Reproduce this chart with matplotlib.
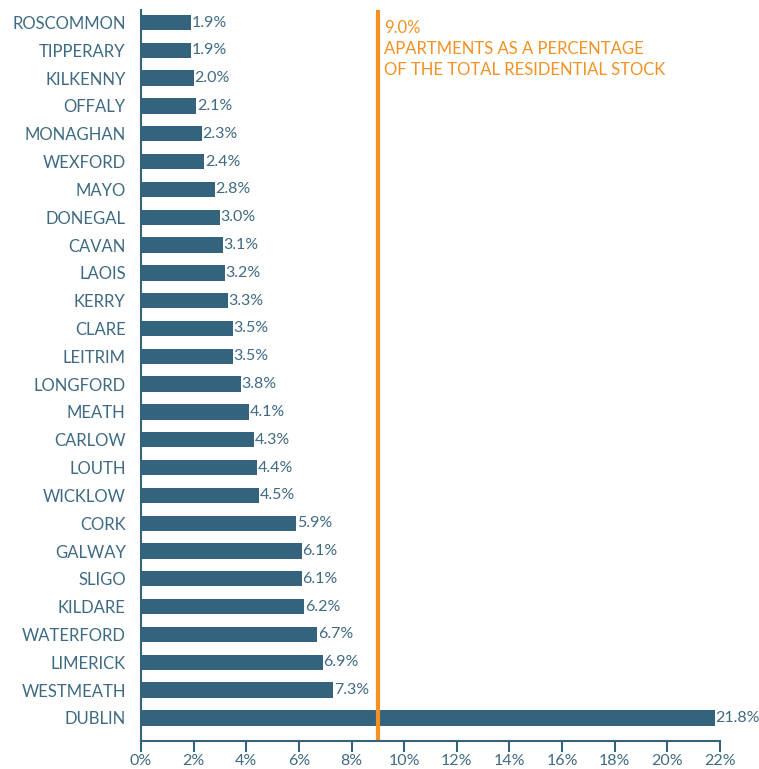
import matplotlib.pyplot as plt

counties = ["ROSCOMMON", "TIPPERARY", "KILKENNY", "OFFALY", "MONAGHAN", "WEXFORD",
            "MAYO", "DONEGAL", "CAVAN", "LAOIS", "KERRY", "CLARE", "LEITRIM",
            "LONGFORD", "MEATH", "CARLOW", "LOUTH", "WICKLOW", "CORK", "GALWAY",
            "SLIGO", "KILDARE", "WATERFORD", "LIMERICK", "WESTMEATH", "DUBLIN"]
share = [1.9, 1.9, 2.0, 2.1, 2.3, 2.4, 2.8, 3.0, 3.1, 3.2, 3.3, 3.5, 3.5,
         3.8, 4.1, 4.3, 4.4, 4.5, 5.9, 6.1, 6.1, 6.2, 6.7, 6.9, 7.3, 21.8]
national = 9.0
xticks = list(range(0, 23, 2))

teal = "#33637d"
text_col = "#3f6b82"
orange = "#f39222"

plt.rcParams["font.family"] = ["Lato", "DejaVu Sans"]

fig = plt.figure(figsize=(7.59, 7.69), dpi=100)
ax = fig.add_axes([0.1858, 0.0364, 0.9486 - 0.1858, 0.987 - 0.0364])

pos = list(range(len(counties) - 1, -1, -1))
ax.barh(pos, share, height=0.55, color=teal)
for p, v in zip(pos, share):
    ax.text(v + 0.02, p, f"{v:.1f}%", va="center", ha="left",
            fontsize=11.5, color=text_col)

ax.axvline(national, color=orange, linewidth=3)
ax.text(national + 0.25, 25.1, f"{national:.1f}%\nAPARTMENTS AS A PERCENTAGE\nOF THE TOTAL RESIDENTIAL STOCK",
        color=orange, fontsize=12, va="top", ha="left", linespacing=1.4)

ax.set_ylim(-0.83, 25.45)
ax.set_xlim(0, 22)
ax.set_yticks(pos)
ax.set_yticklabels(counties, fontsize=12, color=text_col)
ax.set_xticks(xticks)
ax.set_xticklabels([f"{t}%" for t in xticks], fontsize=11.5, color=text_col)
ax.tick_params(axis="y", length=0, pad=11)
ax.tick_params(axis="x", length=8, width=1.5, color=teal, pad=1)

for s in ["top", "right"]:
    ax.spines[s].set_visible(False)
ax.spines["left"].set_color(teal)
ax.spines["bottom"].set_color(teal)
ax.spines["left"].set_linewidth(1.5)
ax.spines["bottom"].set_linewidth(1.5)

plt.savefig("out.png", dpi=100)
